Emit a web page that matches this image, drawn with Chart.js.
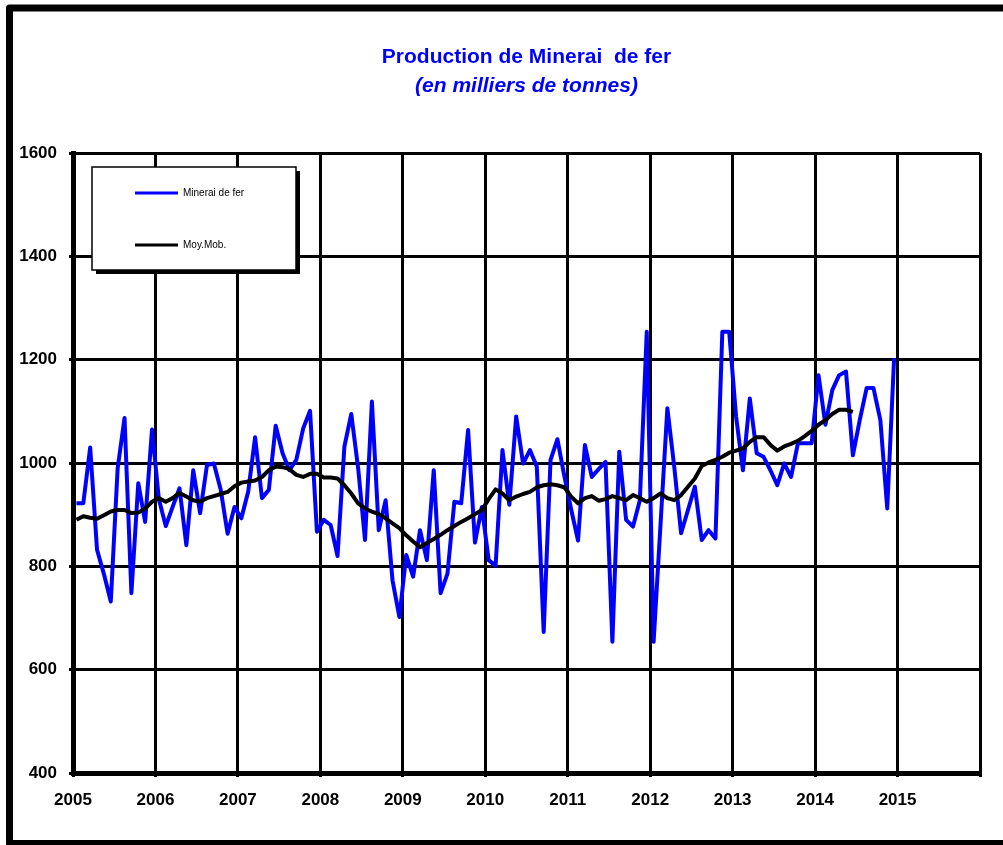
<!DOCTYPE html>
<html lang="fr">
<head>
<meta charset="utf-8">
<title>Production de Minerai de fer</title>
<script src="https://cdn.jsdelivr.net/npm/chart.js@4.4.0/dist/chart.umd.min.js"></script>
<style>
    html, body { margin: 0; padding: 0; background: #fff; }
    #cadre { position: relative; width: 1003px; height: 845px; }
</style>
</head>
<body>
<div id="cadre"><canvas id="graphMinerai"></canvas></div>
<script>
// Étiquettes de l'axe X (une graduation tous les 12 mois, la dernière reste vide)
const annees = ['2005', '2006', '2007', '2008', '2009', '2010', '2011', '2012', '2013', '2014', '2015', ''];

// Production mensuelle de minerai de fer, janv. 2005 -> déc. 2014 (milliers de tonnes)
const minerai = [
    922, 922, 1030, 832, 785, 732, 990, 1087, 748, 961, 886, 1065,
    930, 878, 915, 951, 841, 986, 903, 996, 999, 948, 863, 915,
    893, 945, 1050, 932, 948, 1072, 1019, 986, 1006, 1067, 1101, 867,
    890, 880, 820, 1032, 1095, 990, 851, 1119, 870, 928, 773, 702,
    822, 780, 870, 812, 986, 748, 786, 925, 922, 1064, 846, 915,
    812, 801, 1025, 919, 1090, 999, 1025, 993, 673, 1006, 1046, 975,
    910, 850, 1035, 973, 988, 1002, 654, 1022, 890, 877, 928, 1254,
    654, 880, 1106, 993, 864, 909, 954, 851, 870, 854, 1254, 1254,
    1090, 986, 1125, 1019, 1012, 986, 957, 999, 973, 1038, 1038, 1038,
    1170, 1074, 1141, 1170, 1177, 1015, 1083, 1145, 1145, 1083, 912, 1203
];

// Moyenne mobile (s'arrête en juin 2014)
const moyMob = [
    890, 897, 894, 892, 899, 906, 909, 909, 903, 904, 912, 925,
    932, 925, 932, 942, 935, 928, 925, 932, 936, 940, 944, 955,
    962, 964, 966, 973, 986, 993, 992, 988, 977, 973, 979, 979,
    972, 972, 970, 957, 941, 922, 912, 906, 901, 893, 883, 874,
    860, 848, 837, 845, 853, 861, 870, 878, 886, 893, 901, 909,
    930, 949, 941, 928, 935, 940, 944, 953, 957, 959, 957, 953,
    935, 922, 932, 936, 927, 930, 936, 932, 928, 938, 932, 925,
    932, 941, 932, 928, 938, 954, 970, 994, 1001, 1006, 1012, 1020,
    1024, 1028, 1041, 1050, 1050, 1035, 1024, 1032, 1037, 1043, 1052, 1062,
    1074, 1083, 1095, 1103, 1103, 1099
];

const police = '"Liberation Sans", Arial, sans-serif';

/**
 * Place chaque valeur au milieu de son mois sur l'axe X.
 * @param {number[]} valeurs - série mensuelle.
 */
function versPoints(valeurs) {
    return valeurs.map((v, i) => ({ x: i + 0.5, y: v }));
}

// Cadre extérieur, titres et légende encadrée
const pluginDecor = {
    id: 'decor',
    beforeDraw(chart) {
        const ctx = chart.ctx;
        ctx.save();
        ctx.fillStyle = '#fff';
        ctx.fillRect(0, 0, chart.width, chart.height);
        ctx.strokeStyle = '#000';
        ctx.lineWidth = 7;
        ctx.lineJoin = 'round';
        ctx.strokeRect(9.5, 8, 1010, 835.5);
        ctx.restore();
    },
    afterDraw(chart) {
        const { ctx, chartArea } = chart;
        const cx = (chartArea.left + chartArea.right) / 2;
        ctx.save();
        ctx.fillStyle = '#0000ff';
        ctx.textAlign = 'center';
        ctx.textBaseline = 'middle';
        ctx.font = 'bold 21px ' + police;
        ctx.fillText('Production de Minerai  de fer', cx, 57);
        ctx.font = 'italic bold 21px ' + police;
        ctx.fillText('(en milliers de tonnes)', cx, 86);

        // boîte de légende avec ombre
        const bx = 92, by = 167, bw = 204, bh = 103;
        ctx.fillStyle = '#000';
        ctx.fillRect(bx + 4, by + 4, bw, bh);
        ctx.fillStyle = '#fff';
        ctx.fillRect(bx, by, bw, bh);
        ctx.strokeStyle = '#000';
        ctx.lineWidth = 1.5;
        ctx.strokeRect(bx, by, bw, bh);

        chart.data.datasets.forEach((ds, k) => {
            const y = by + 26 + k * 52;
            ctx.strokeStyle = ds.borderColor;
            ctx.lineWidth = 3;
            ctx.beginPath();
            ctx.moveTo(135, y);
            ctx.lineTo(178, y);
            ctx.stroke();
            ctx.fillStyle = '#000';
            ctx.font = '10px ' + police;
            ctx.textAlign = 'left';
            ctx.fillText(ds.label, 183, y);
        });
        ctx.restore();
    }
};

const fontAxe = { family: police, size: 17, weight: 'bold' };

new Chart(document.getElementById('graphMinerai'), {
    type: 'line',
    data: {
        datasets: [
            {
                label: 'Minerai de fer',
                data: versPoints(minerai),
                borderColor: '#0000ff',
                borderWidth: 4,
                pointRadius: 0,
                tension: 0,
                borderJoinStyle: 'round',
                order: 2,
            },
            {
                label: 'Moy.Mob.',
                data: versPoints(moyMob),
                borderColor: '#000000',
                borderWidth: 4,
                pointRadius: 0,
                tension: 0,
                borderJoinStyle: 'round',
                order: 1,
            }
        ]
    },
    options: {
        responsive: true,
        maintainAspectRatio: false,
        animation: false,
        layout: { padding: { top: 153, right: 23, bottom: 0, left: 0 } },
        scales: {
            x: {
                type: 'linear',
                min: 0,
                max: 132,
                afterFit: (s) => { s.height = 72; },
                ticks: {
                    stepSize: 12,
                    autoSkip: false,
                    maxRotation: 0,
                    color: '#000',
                    font: fontAxe,
                    padding: 13,
                    callback: (v) => annees[Math.round(v / 12)] || ''
                },
                grid: { color: '#000', lineWidth: 3, tickLength: 4 },
                border: { color: '#000', width: 5 }
            },
            y: {
                min: 400,
                max: 1600,
                afterFit: (s) => { s.width = 73; },
                ticks: {
                    stepSize: 200,
                    color: '#000',
                    font: fontAxe,
                    padding: 12,
                    callback: (v) => String(v)
                },
                grid: { color: '#000', lineWidth: 3, tickLength: 4 },
                border: { color: '#000', width: 5 }
            }
        },
        plugins: {
            legend: { display: false },
            tooltip: { enabled: false }
        }
    },
    plugins: [pluginDecor]
});
</script>
</body>
</html>
